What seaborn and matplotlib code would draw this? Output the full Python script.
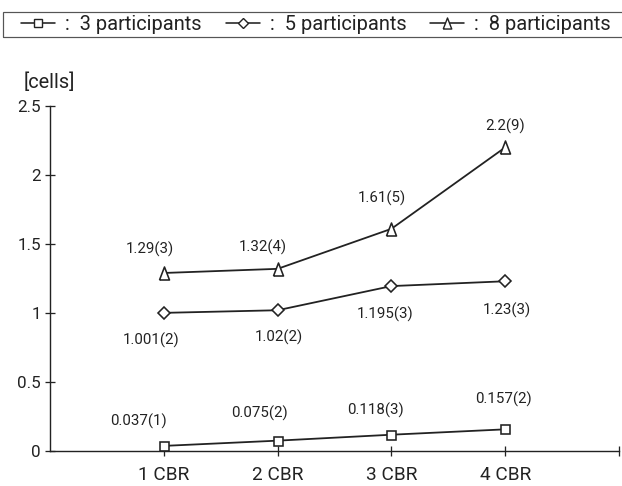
import matplotlib
matplotlib.use("Agg")
import matplotlib.pyplot as plt
import seaborn as sns
import pandas as pd
from matplotlib.lines import Line2D
from matplotlib.patches import Rectangle

# ---- data -------------------------------------------------------------
categories = ["1 CBR", "2 CBR", "3 CBR", "4 CBR"]
series_names = ["3 participants", "5 participants", "8 participants"]

cells_3 = [0.037, 0.075, 0.118, 0.157]
cells_5 = [1.001, 1.02, 1.195, 1.23]
cells_8 = [1.29, 1.32, 1.61, 2.2]

count_3 = [1, 2, 3, 2]
count_5 = [2, 2, 3, 3]
count_8 = [3, 4, 5, 9]

y_ticks = [0, 0.5, 1, 1.5, 2, 2.5]
y_tick_labels = ["0", "0.5", "1", "1.5", "2", "2.5"]

# ---- styling ----------------------------------------------------------
sns.set_style("ticks")
plt.rcParams["font.family"] = ["Roboto", "DejaVu Sans"]
ink = "#222222"

# tall narrow triangle marker
tri = [(-0.77, -1.0), (0.77, -1.0), (0.0, 1.0), (-0.77, -1.0)]
markers = ["s", "D", tri]
marker_sizes = [9, 9, 13]

# label offsets (points) relative to each marker
label_offsets = [
    [(-25, 25), (-18, 27), (-16, 24), (-2, 30)],
    [(-13, -27), (1, -27), (-6, -28), (2, -29)],
    [(-14, 24), (-15, 22), (-10, 30), (0, 21)],
]

values = [cells_3, cells_5, cells_8]
counts = [count_3, count_5, count_8]

W, H = 622, 486
fig = plt.figure(figsize=(W / 72, H / 72), dpi=72)
ax = fig.add_axes([50 / W, 1 - 451 / H, (619 - 50) / W, (451 - 106) / H])

for name, vals, mk, ms in zip(series_names, values, markers, marker_sizes):
    df = pd.DataFrame({"pos": range(len(categories)), "cells": vals})
    sns.lineplot(data=df, x="pos", y="cells", ax=ax, color=ink, linewidth=1.8,
                 marker=mk, markersize=ms, markerfacecolor="white",
                 markeredgecolor=ink, markeredgewidth=1.6, legend=False)

for vals, cnts, offs in zip(values, counts, label_offsets):
    for i, (v, n, off) in enumerate(zip(vals, cnts, offs)):
        ax.annotate(f"{v:g}({n})", xy=(i, v), xytext=off, textcoords="offset points",
                    ha="center", va="center", fontsize=15, color=ink)

ax.set_xlim(-1, 4)
ax.set_ylim(0, 2.5)
ax.set_xticks([0, 1, 2, 3, 4])
ax.set_xticklabels(categories + [""], fontsize=19, color=ink)
ax.set_yticks(y_ticks)
ax.set_yticklabels(y_tick_labels, fontsize=17, color=ink)
ax.set_xlabel("")
ax.set_ylabel("")
ax.tick_params(axis="both", direction="inout", length=10, width=1.3, color=ink)
ax.tick_params(axis="x", pad=10)
ax.tick_params(axis="y", pad=4)
for side in ["top", "right"]:
    ax.spines[side].set_visible(False)
for side in ["left", "bottom"]:
    ax.spines[side].set_color(ink)
    ax.spines[side].set_linewidth(1.4)

fig.text(49 / W, 1 - 82 / H, "[cells]", ha="center", va="center", fontsize=20, color=ink)

# legend strip across the top
fig.patches.append(Rectangle((3 / W, 1 - 37 / H), 1.0, 25 / H, transform=fig.transFigure,
                             fill=False, edgecolor="#555555", linewidth=1.2))
handles = [Line2D([], [], color=ink, linewidth=1.6, marker=mk, markersize=ms * 0.85,
                  markerfacecolor="white", markeredgecolor=ink, markeredgewidth=1.4)
           for mk, ms in zip(markers, marker_sizes)]
fig.legend(handles, [f":  {s}" for s in series_names], ncol=3, frameon=False,
           loc="center", bbox_to_anchor=(316 / W, 1 - 24.5 / H), fontsize=20,
           handlelength=1.7, handletextpad=0.5, columnspacing=1.2, borderpad=0,
           labelcolor=ink)

fig.savefig("out.png", dpi=72, facecolor="white")
